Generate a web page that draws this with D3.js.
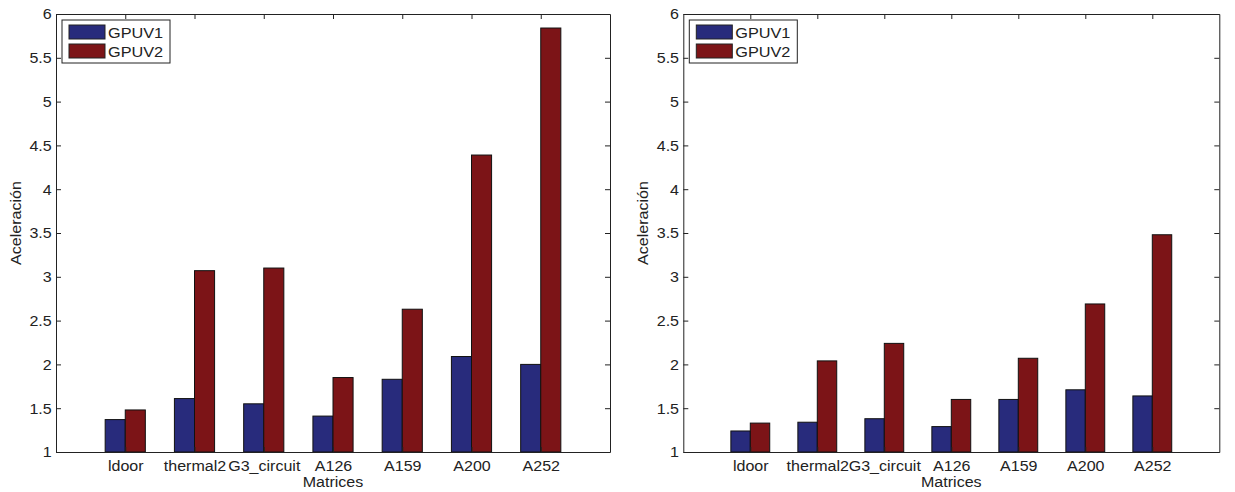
<!DOCTYPE html>
<html><head><meta charset="utf-8">
<script src="https://cdn.jsdelivr.net/npm/d3@7"></script>
<style>body{margin:0;background:#fff}svg{display:block}text{font-family:"Liberation Sans",Arial,sans-serif}</style>
</head><body><svg id="c" width="1235" height="492"></svg>
<script>
const categories=["ldoor","thermal2","G3_circuit","A126","A159","A200","A252"];
const seriesNames=["GPUV1","GPUV2"];
const leftGPUV1=[1.37,1.61,1.55,1.41,1.83,2.09,2.00];
const leftGPUV2=[1.48,3.07,3.10,1.85,2.63,4.39,5.84];
const rightGPUV1=[1.24,1.34,1.38,1.29,1.60,1.71,1.64];
const rightGPUV2=[1.33,2.04,2.24,1.60,2.07,2.69,3.48];
const yTicks=[1,1.5,2,2.5,3,3.5,4,4.5,5,5.5,6];
const colors=["#282b7c","#7c1417"];
const svg=d3.select("#c");
const SX=1.07;
function panel(x0,x1,v1,v2){
  const y0=452,y1=14;
  const x=d3.scaleLinear().domain([0,8]).range([x0,x1]);
  const y=d3.scaleLinear().domain([1,6]).range([y0,y1]);
  const g=svg.append("g");
  const bw=(x(1)-x(0))*0.29;
  const data=[v1,v2];
  data.forEach((vals,s)=>{
    g.selectAll(null).data(vals).enter().append("rect")
      .attr("x",(d,i)=>x(i+1)-bw+s*bw).attr("width",bw)
      .attr("y",d=>y(d)).attr("height",d=>y(1)-y(d))
      .attr("fill",colors[s]).attr("stroke","#111").attr("stroke-width",1);
  });
  const yl=g.append("g").attr("transform",`translate(${x0},0)`).call(d3.axisLeft(y).tickValues(yTicks).tickFormat(d3.format("")).tickSizeInner(-5).tickSizeOuter(0).tickPadding(4));
  const yr=g.append("g").attr("transform",`translate(${x1},0)`).call(d3.axisRight(y).tickValues(yTicks).tickFormat("").tickSizeInner(-5).tickSizeOuter(0));
  const xb=g.append("g").attr("transform",`translate(0,${y0})`).call(d3.axisBottom(x).tickValues(d3.range(1,8)).tickFormat(i=>categories[i-1]).tickSizeInner(-5).tickSizeOuter(0).tickPadding(8));
  const xt=g.append("g").attr("transform",`translate(0,${y1})`).call(d3.axisTop(x).tickValues(d3.range(1,8)).tickFormat("").tickSizeInner(-5).tickSizeOuter(0));
  [yl,yr,xb,xt].forEach(a=>{a.selectAll("path,line").attr("stroke","#222");a.selectAll("text").attr("fill","#222").style("font-size","15px").attr("transform",`scale(${SX},1)`);});
  g.append("text").attr("transform",`translate(${(x0+x1)/2},487) scale(${SX},1)`).attr("text-anchor","middle").style("font-size","15px").attr("fill","#222").text("Matrices");
  g.append("text").attr("transform",`translate(${x0-35},223) rotate(-90) scale(${SX},1)`).attr("text-anchor","middle").style("font-size","15px").attr("fill","#222").text("Aceleración");
  const lg=g.append("g").attr("transform",`translate(${x0+6},20)`);
  lg.append("rect").attr("width",108).attr("height",43).attr("fill","#fff").attr("stroke","#222");
  seriesNames.forEach((n,i)=>{
    lg.append("rect").attr("x",7).attr("y",5+i*19).attr("width",36).attr("height",14).attr("fill",colors[i]).attr("stroke","#222");
    lg.append("text").attr("transform",`translate(46,${17.5+i*19}) scale(1.05,1)`).style("font-size","15.5px").attr("fill","#222").text(n);
  });
}
panel(56,610,leftGPUV1,leftGPUV2);
panel(683.3,1219.3,rightGPUV1,rightGPUV2);
</script></body></html>
